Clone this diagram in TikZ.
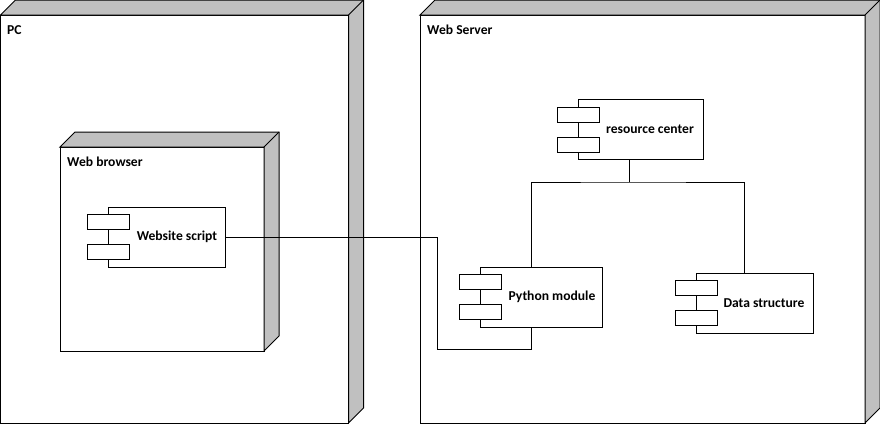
\documentclass[tikz,border=0pt]{standalone}
\usepackage{fontspec}
\setmainfont{Carlito}
\usetikzlibrary{calc}
\definecolor{sidegray}{RGB}{192,192,192}
\tikzset{
  lw/.style={line width=1pt},
  front/.style={draw, lw, fill=white, inner sep=0pt, outer sep=0pt, anchor=north west},
  comp/.style={draw, lw, fill=white, inner sep=0pt, outer sep=0pt, anchor=north west},
  port/.style={draw, lw, fill=white, inner sep=0pt, outer sep=0pt, anchor=north west, minimum width=42pt, minimum height=15pt},
  lbl/.style={font=\bfseries\fontsize{13.6pt}{15pt}\selectfont, inner sep=0pt, anchor=west},
  clbl/.style={font=\bfseries\fontsize{13.6pt}{15pt}\selectfont, inner sep=0pt},
  wire/.style={lw},
}
\newcommand{\depthbox}[1]{%
  \draw[lw, fill=sidegray] (#1.north west) -- ++(15,-15) -| ($(#1.south east)+(15,-15)$) -- (#1.south east) -- (#1.north east) -- cycle;
  \draw[lw] (#1.north east) -- ++(15,-15);
}
\begin{document}
\begin{tikzpicture}[x=1pt,y=-1pt]
\useasboundingbox (0,0) rectangle (880,424);
\fill[white] (0,0) rectangle (880,424);
% PC
\node[front, minimum width=348pt, minimum height=408pt] (pc) at (0.5,15) {};
\depthbox{pc}
\node[lbl] (pclbl) at (7,30) {PC};
% Web browser
\node[front, minimum width=204pt, minimum height=204pt] (wb) at (60,147) {};
\depthbox{wb}
\node[lbl] (wblbl) at (67,162) {Web browser};
% Website script
\node[comp, minimum width=117pt, minimum height=60pt] (ws) at (108,207) {};
\node[port] (wsp1) at (87,214) {};
\node[port] (wsp2) at (87,244) {};
\draw[lw] (wsp1.south -| ws.west) -- (wsp2.north -| ws.west);
\node[clbl] (wslbl) at (177,237) {Website script};
% Web Server
\node[front, minimum width=445pt, minimum height=408pt] (srv) at (420,15) {};
\depthbox{srv}
\node[lbl] (srvlbl) at (427,30) {Web Server};
% resource center
\node[comp, minimum width=125pt, minimum height=60pt] (rc) at (578,99) {};
\node[port] (rcp1) at (557,107) {};
\node[port] (rcp2) at (557,137) {};
\draw[lw] (rcp1.south -| rc.west) -- (rcp2.north -| rc.west);
\node[clbl] (rclbl) at (650,129) {resource center};
% Python module
\node[comp, minimum width=122pt, minimum height=60pt] (pm) at (480,267) {};
\node[port] (pmp1) at (459,274) {};
\node[port] (pmp2) at (459,304) {};
\draw[lw] (pmp1.south -| pm.west) -- (pmp2.north -| pm.west);
\node[clbl] (pmlbl) at (552,297) {Python module};
% Data structure
\node[comp, minimum width=117pt, minimum height=60pt] (ds) at (696,273) {};
\node[port] (dsp1) at (675,280) {};
\node[port] (dsp2) at (675,310) {};
\draw[lw] (dsp1.south -| ds.west) -- (dsp2.north -| ds.west);
\node[clbl] (dslbl) at (764,303) {Data structure};
% connectors
\coordinate (bus) at (629,182);
\draw[wire] (rc.south -| bus) -- (bus);
\draw[wire] (pm.north -| 531,0) |- (bus) -| (ds.north -| 744,0);
\coordinate (jog) at (437,349);
\draw[wire] (ws.east) -- (ws.east -| jog) -- (jog) -| (pm.south -| 531,0);
\end{tikzpicture}
\end{document}
